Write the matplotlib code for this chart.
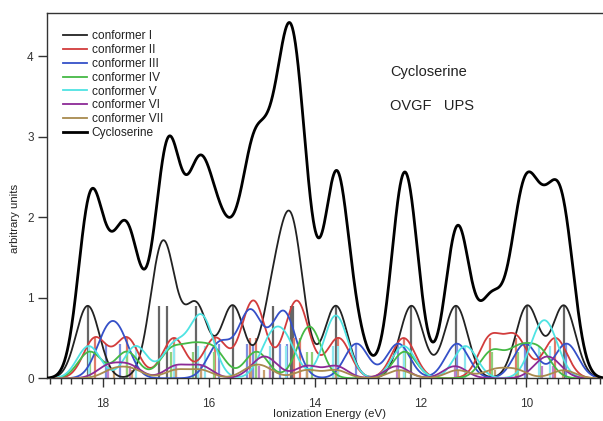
import numpy as np
import matplotlib.pyplot as plt

plt.rcParams['font.family'] = ['Liberation Sans', 'DejaVu Sans']

# OVGF ionization energies (eV) for each conformer (stick positions)
e_conf1 = [18.29, 16.94, 16.79, 16.24, 15.55, 14.79, 14.45, 14.41, 13.60, 12.17, 11.33, 9.98, 9.29]
e_conf2 = [18.15, 17.55, 16.66, 15.88, 15.22, 15.10, 14.40, 14.28, 13.55, 12.32, 10.68, 10.20, 9.45]
e_conf3 = [17.95, 17.68, 15.80, 15.28, 15.16, 14.65, 14.52, 13.21, 12.42, 11.31, 10.02, 9.24]
e_conf4 = [18.25, 17.55, 16.72, 16.30, 15.90, 15.10, 14.15, 14.05, 12.30, 10.65, 10.15, 9.75]
e_conf5 = [18.27, 17.38, 16.66, 16.20, 16.08, 14.84, 14.55, 13.65, 13.55, 12.32, 11.15, 9.76, 9.56]
e_conf6 = [17.90, 17.50, 16.62, 16.15, 15.05, 14.85, 14.15, 13.60, 12.45, 11.35, 9.70, 9.50]
e_conf7 = [17.80, 17.45, 16.62, 16.15, 15.20, 14.95, 14.15, 13.60, 12.40, 11.30, 10.60, 10.20, 9.30]

# stick height of each conformer (population-weighted intensity)
weights = [0.90, 0.50, 0.43, 0.33, 0.40, 0.15, 0.10]
names = ['conformer I', 'conformer II', 'conformer III', 'conformer IV',
         'conformer V', 'conformer VI', 'conformer VII']
colors = ['#222222', '#d23c3c', '#3550c8', '#45b945', '#4fe3e3', '#8c2a96', '#a88a4e']
stick_colors = ['#666666', '#e07a6a', '#7d8fe0', '#8fd07a', '#8fe8f0', '#c080c8', '#c8a070']

# gaussian broadening (eV)
sigma = 0.22

sticks = [e_conf1, e_conf2, e_conf3, e_conf4, e_conf5, e_conf6, e_conf7]
x = np.linspace(19.2, 8.4, 2500)


def broaden(energies, h):
    y = np.zeros_like(x)
    for e in energies:
        y += h * np.exp(-(x - e) ** 2 / (2 * sigma ** 2))
    return y


fig = plt.figure(figsize=(6.03, 4.21), dpi=100)
ax = fig.add_axes([47 / 603, (421 - 378.3) / 421, 556 / 603, (378.3 - 12.7) / 421])

total = np.zeros_like(x)
# sticks first, then curves on top
for k in range(7):
    ax.vlines(sticks[k], 0, weights[k], color=stick_colors[k], lw=1.6, zorder=2)
for k in range(7):
    yk = broaden(sticks[k], weights[k])
    total += yk
    ax.plot(x, yk, color=colors[k], lw=1.3, label=names[k], zorder=3)
ax.plot(x, total, color='black', lw=2.0, label='Cycloserine', zorder=4)

ax.set_xlim(19.06, 8.55)
ax.set_ylim(0, 4.54)
ax.set_xticks([18, 16, 14, 12, 10])
ax.set_xticks(np.arange(8.6, 19.01, 0.2), minor=True)
ax.set_yticks([0, 1, 2, 3, 4])
ax.tick_params(axis='x', which='major', direction='out', length=6.5, width=1, pad=8, labelsize=8.5, colors='#333333')
ax.tick_params(axis='x', which='minor', direction='out', length=4.3, width=1, colors='#333333')
ax.tick_params(axis='y', direction='out', length=6.5, width=1, pad=3, labelsize=8.5, colors='#333333')
for s in ['left', 'bottom', 'top']:
    ax.spines[s].set_color('#333333')
    ax.spines[s].set_linewidth(1.0)
ax.spines['right'].set_visible(False)

fig.text(330 / 603, 1 - 414 / 421, 'Ionization Energy (eV)', ha='center', va='center', fontsize=8.2, color='#222222')
fig.text(15 / 603, 1 - 218 / 421, 'arbitrary units', ha='center', va='center', rotation=90, fontsize=8.2, color='#222222')

ax.text(390 / 603, 1 - 72 / 421, 'Cycloserine', transform=fig.transFigure, ha='left', va='center', fontsize=10.5, color='#222222')
ax.text(390 / 603, 1 - 106 / 421, 'OVGF   UPS', transform=fig.transFigure, ha='left', va='center', fontsize=10.5, color='#222222')

leg = ax.legend(loc='upper left', bbox_to_anchor=(16 / 556, 1 - 17.5 / 365.6), frameon=False,
                fontsize=8.6, handlelength=2.0, handletextpad=0.4, labelspacing=0.155,
                borderaxespad=0, borderpad=0)
for t in leg.get_texts():
    t.set_color('#222222')

fig.savefig('out.png', dpi=100)
